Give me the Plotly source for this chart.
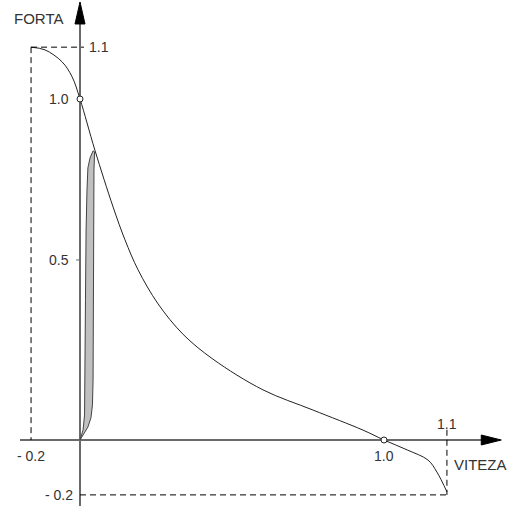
import plotly.graph_objects as go

# Drawing units: origin at axes crossing; the schematic is not to scale,
# so tick labels are placed at the positions where the reference draws them.
CURVE_X = [-0.161, -0.115, -0.059, -0.026, 0.0, 0.049, 0.109, 0.148, 0.191, 0.257,
           0.339, 0.4375, 0.602, 0.766, 0.931, 1.0, 1.076, 1.145, 1.174, 1.207]
CURVE_Y = [1.152, 1.144, 1.109, 1.065, 1.0, 0.850, 0.683, 0.587, 0.499, 0.399,
           0.310, 0.237, 0.147, 0.088, 0.029, 0.0, -0.029, -0.059, -0.094, -0.152]

LOBE_X = [0.0, 0.013, 0.026, 0.036, 0.041, 0.043, 0.044, 0.044, 0.046, 0.048,
          0.043, 0.033, 0.026, 0.023, 0.020, 0.018, 0.016, 0.015, 0.010, 0.0]
LOBE_Y = [0.0, 0.018, 0.038, 0.065, 0.103, 0.176, 0.411, 0.645, 0.792, 0.845,
          0.848, 0.827, 0.798, 0.733, 0.616, 0.411, 0.176, 0.073, 0.029, 0.0]

POINTS_X = [0.0, 1.0]
POINTS_Y = [1.0, 0.0]

X_TICK_POS = [-0.161, 1.0, 1.207]
X_TICK_TEXT = ["- 0.2", "1.0", "1.1"]
X_TICK_SIDE = ["below", "below", "above"]
Y_TICK_POS = [1.152, 1.0, 0.528, -0.161]
Y_TICK_TEXT = ["1.1", "1.0", "0.5", "- 0.2"]
Y_TICK_SIDE = ["right", "left", "left", "left"]

X_LABEL = "VITEZA"
Y_LABEL = "FORTA"

FONT = "Liberation Sans, Arial, sans-serif"
TXT = "#333333"
AXC = "#6a6a6a"

X_RANGE = [-80 / 304, 430 / 304]
Y_RANGE = [-66 / 341, 440 / 341]

fig = go.Figure()

fig.add_trace(go.Scatter(x=LOBE_X, y=LOBE_Y, mode="lines", fill="toself",
                         fillcolor="#c0c0c0", line=dict(color="#444444", width=1),
                         hoverinfo="skip", showlegend=False))
fig.add_trace(go.Scatter(x=CURVE_X, y=CURVE_Y, mode="lines",
                         line=dict(color="#222222", width=1, shape="spline", smoothing=1.0),
                         hoverinfo="skip", showlegend=False))

shapes = []
# axes
shapes.append(dict(type="line", xref="x", yref="y", x0=X_RANGE[0] + 20 / 304, x1=1.32,
                   y0=0, y1=0, line=dict(color=AXC, width=2), layer="below"))
shapes.append(dict(type="line", xref="x", yref="y", x0=0, x1=0,
                   y0=Y_RANGE[0], y1=1.22, line=dict(color=AXC, width=2), layer="below"))
# arrow heads (pixel-sized, anchored at axis ends)
shapes.append(dict(type="path", xref="x", yref="y", xsizemode="pixel", ysizemode="pixel",
                   xanchor=1.32, yanchor=0, path="M0,-5 L0,5 L20,0 Z",
                   fillcolor="black", line=dict(color="black", width=1)))
shapes.append(dict(type="path", xref="x", yref="y", xsizemode="pixel", ysizemode="pixel",
                   xanchor=0, yanchor=1.22, path="M-5,0 L5,0 L0,22 Z",
                   fillcolor="black", line=dict(color="black", width=1)))

dash = dict(color="black", width=1, dash="6px,4px")
xm, xM = X_TICK_POS[0], X_TICK_POS[2]
ym, yM = Y_TICK_POS[3], Y_TICK_POS[0]
shapes.append(dict(type="line", xref="x", yref="y", x0=xm, x1=xm, y0=yM, y1=0, line=dash))
shapes.append(dict(type="line", xref="x", yref="y", x0=xm, x1=0.013, y0=yM, y1=yM, line=dash))
shapes.append(dict(type="line", xref="x", yref="y", x0=0, x1=xM, y0=ym, y1=ym, line=dash))
shapes.append(dict(type="line", xref="x", yref="y", x0=xM, x1=xM, y0=0.03, y1=ym, line=dash))
# small tick at 0.5
shapes.append(dict(type="line", xref="x", yref="y", x0=-0.013, x1=0, y0=Y_TICK_POS[2],
                   y1=Y_TICK_POS[2], line=dict(color=AXC, width=1)))

fig.add_trace(go.Scatter(x=POINTS_X, y=POINTS_Y, mode="markers",
                         marker=dict(symbol="circle", size=6, color="white",
                                     line=dict(color="#222222", width=1)),
                         hoverinfo="skip", showlegend=False))

ann = []
for p, t, s in zip(X_TICK_POS, X_TICK_TEXT, X_TICK_SIDE):
    ann.append(dict(x=p, y=0, xref="x", yref="y", text=t, showarrow=False,
                    yshift=-16 if s == "below" else 16, xanchor="center", yanchor="middle"))
for p, t, s in zip(Y_TICK_POS, Y_TICK_TEXT, Y_TICK_SIDE):
    if s == "right":
        ann.append(dict(x=0, y=p, xref="x", yref="y", text=t, showarrow=False,
                        xshift=7, xanchor="left", yanchor="middle"))
    else:
        ann.append(dict(x=0, y=p, xref="x", yref="y", text=t, showarrow=False,
                        xshift=-9 if t != "- 0.2" else -5, xanchor="right", yanchor="middle"))
ann.append(dict(x=-0.138, y=1.237, xref="x", yref="y", text=Y_LABEL, showarrow=False,
                font=dict(size=15), xanchor="center", yanchor="middle"))
ann.append(dict(x=X_RANGE[1], y=-0.073, xref="x", yref="y", text=X_LABEL, showarrow=False,
                font=dict(size=15), xanchor="right", yanchor="middle", xshift=-1))

fig.update_layout(
    width=510, height=506,
    margin=dict(l=0, r=0, t=0, b=0),
    paper_bgcolor="white", plot_bgcolor="white",
    font=dict(family=FONT, size=14, color=TXT),
    xaxis=dict(range=X_RANGE, visible=False, fixedrange=True),
    yaxis=dict(range=Y_RANGE, visible=False, fixedrange=True),
    shapes=shapes, annotations=ann, showlegend=False,
)

fig.write_html("out.html", config={"displayModeBar": False},
               post_script="document.body.style.margin='0';")
